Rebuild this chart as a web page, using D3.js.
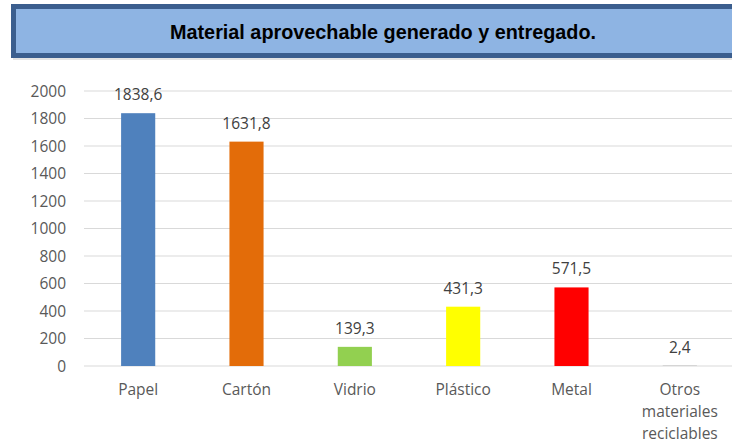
<!DOCTYPE html>
<html><head><meta charset="utf-8">
<script src="https://cdn.jsdelivr.net/npm/d3@7"></script>
<style>body{margin:0;background:#fff;}svg{display:block;}</style>
</head><body>
<script>
const categories = ["Papel", "Cartón", "Vidrio", "Plástico", "Metal", "Otros materiales reciclables"];
const categoryLines = [["Papel"], ["Cartón"], ["Vidrio"], ["Plástico"], ["Metal"], ["Otros", "materiales", "reciclables"]];
const values = [1838.6, 1631.8, 139.3, 431.3, 571.5, 2.4];
const valueLabels = ["1838,6", "1631,8", "139,3", "431,3", "571,5", "2,4"];
const barColors = ["#4f81bd", "#e36c09", "#92d050", "#ffff00", "#ff0000", "#a5a5a5"];
const yTicks = [0, 200, 400, 600, 800, 1000, 1200, 1400, 1600, 1800, 2000];
const title = "Material aprovechable generado y entregado.";

const W = 732, H = 443;
const svg = d3.select("body").append("svg").attr("width", W).attr("height", H);

// Title box
svg.append("rect").attr("x", 13).attr("y", 7).attr("width", 730).attr("height", 53).attr("fill", "#e4e4e4");
svg.append("rect").attr("x", 13.5).attr("y", 6.5).attr("width", 730).attr("height", 49)
  .attr("fill", "#8eb4e3").attr("stroke", "#3b5e8e").attr("stroke-width", 5);
svg.append("text").attr("x", 383).attr("y", 39).attr("text-anchor", "middle")
  .attr("font-family", "Liberation Sans, Arial, sans-serif").attr("font-weight", "bold")
  .attr("font-size", 19.5).attr("textLength", 426).attr("lengthAdjust", "spacingAndGlyphs")
  .attr("fill", "#000").text(title);

const x = d3.scaleBand().domain(categories).range([84, 734]).paddingInner(0.685).paddingOuter(0.3425);
const y = d3.scaleLinear().domain([0, 2000]).range([366, 91]);

const font = "'Open Sans', Lato, sans-serif";
const fs = 15.5;
const textColor = "#595959";

// gridlines
svg.append("g").selectAll("line").data(yTicks).join("line")
  .attr("x1", 84).attr("x2", 734)
  .attr("y1", d => y(d)).attr("y2", d => y(d))
  .attr("stroke", "#d9d9d9").attr("stroke-width", 1);

// y axis
const yAxis = d3.axisLeft(y).tickValues(yTicks).tickSize(0).tickPadding(0).tickFormat(d3.format("d"));
const gy = svg.append("g").attr("transform", "translate(66,0)").call(yAxis);
gy.select(".domain").remove();
gy.selectAll("text").attr("font-family", font).attr("font-size", fs).attr("fill", textColor).attr("dy", "0.35em");

// bars
svg.append("g").selectAll("rect").data(values).join("rect")
  .attr("x", (d, i) => x(categories[i]))
  .attr("width", x.bandwidth())
  .attr("y", d => y(d))
  .attr("height", d => y(0) - y(d))
  .attr("fill", (d, i) => barColors[i]);

// value labels
svg.append("g").selectAll("text").data(values).join("text")
  .attr("x", (d, i) => x(categories[i]) + x.bandwidth() / 2)
  .attr("y", d => y(d) - 13)
  .attr("text-anchor", "middle")
  .attr("font-family", font).attr("font-size", fs).attr("fill", "#404040")
  .text((d, i) => valueLabels[i]);

// x axis labels
const xAxis = d3.axisBottom(x).tickSize(0).tickFormat(() => "");
const gx = svg.append("g").attr("transform", "translate(0,366)").call(xAxis);
gx.select(".domain").remove();
gx.selectAll(".tick").each(function(d, i) {
  const t = d3.select(this).select("text").attr("y", 0).attr("dy", null)
    .attr("font-family", font).attr("font-size", fs).attr("fill", textColor);
  categoryLines[i].forEach((ln, j) => {
    t.append("tspan").attr("x", 0).attr("y", 29 + j * 22).text(ln);
  });
});
</script>
</body></html>
